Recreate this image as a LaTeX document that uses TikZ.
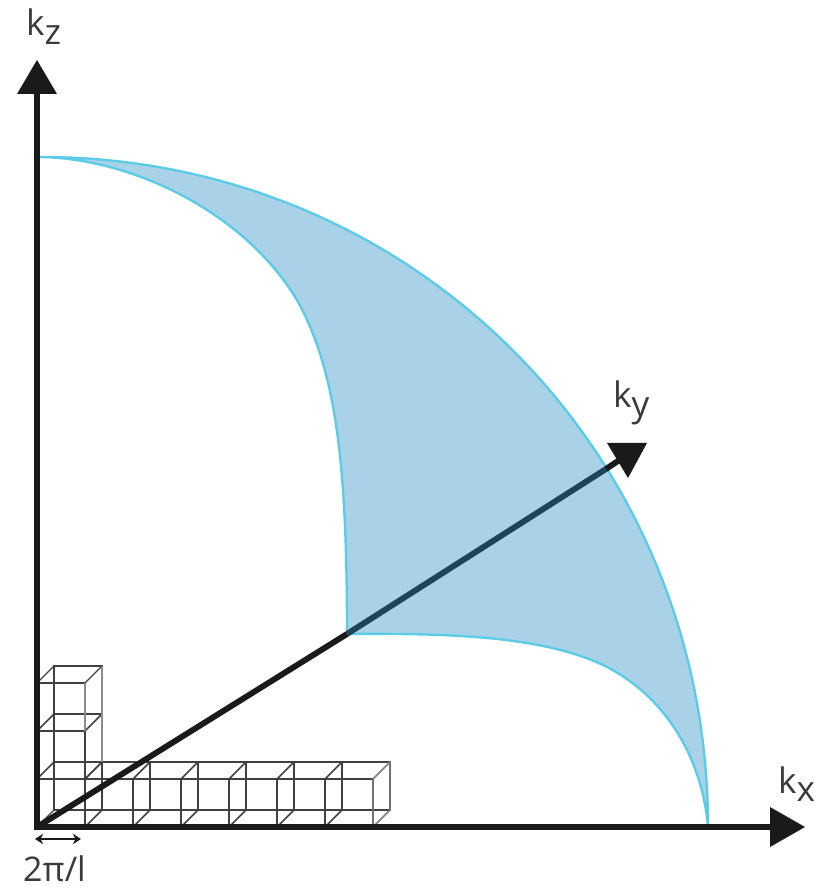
\documentclass[tikz,border=0pt]{standalone}
\usepackage{fontspec}
\usepackage{tikz}
\usepackage{xcolor}
\usetikzlibrary{arrows.meta}
\setmainfont{Open Sans}
\definecolor{shellfill}{HTML}{A9D2E8}
\definecolor{shelledge}{HTML}{5CCBE6}
\definecolor{axisink}{HTML}{1A1A1A}
\definecolor{axisteal}{HTML}{1C4557}
\definecolor{labelink}{HTML}{3A3A3A}
\tikzset{
  axisline/.style={line width=5pt,draw=axisink},
  axishead/.style={fill=axisink,draw=none},
  axislabel/.style={anchor=base west,inner sep=0pt,text=labelink,font=\fontsize{30}{32}\selectfont},
  cellline/.style={line width=1.1pt,draw=black!75,line join=miter},
  cellfade/.style={line width=1.1pt,draw=black!45},
}
\newcommand{\lowered}[1]{\raisebox{-0.24em}{#1}}
\newcommand{\cell}[2]{%
  \draw[cellline] (#1,#2) rectangle ++(48,48);
  \draw[cellline] (#1+17,#2+17) rectangle ++(48,48);
  \draw[cellline] (#1,#2)--++(17,17);
  \draw[cellline] (#1+48,#2)--++(17,17);
  \draw[cellline] (#1,#2+48)--++(17,17);
  \draw[cellline] (#1+48,#2+48)--++(17,17);
}
\begin{document}
\begin{tikzpicture}[x=0.3mm,y=0.3mm]
\useasboundingbox (-37,-63) rectangle (780,827);
\coordinate (origin) at (0,0);
\coordinate (kztip) at (0,767);
\coordinate (kxtip) at (768,0);
\coordinate (kymid) at (310,193);
\coordinate (kycross) at (569,358);
\coordinate (kyend) at (590,372);
\coordinate (topcorner) at (0,670);
\coordinate (rightcorner) at (671,0);
% shell
\draw[fill=shellfill,line width=2pt,draw=shelledge,line join=round] (topcorner) .. controls (375,672) and (671,375) .. (rightcorner)
  .. controls (665,70) and (628,130) .. (570,160)
  .. controls (510,190) and (420,194) .. (kymid)
  .. controls (310,360) and (300,455) .. (260,527)
  .. controls (205,618) and (90,670) .. (topcorner);
% cells
\foreach \xpos in {0,48,...,288}{\cell{\xpos}{0}}
\foreach \ypos in {48,96}{\cell{0}{\ypos}}
\draw[cellfade] (336,0)--(336,48)--(353,65)--(353,17)--(336,0);
\draw[cellfade] (48,96)--(48,144);
\draw[cellfade] (65,65)--(65,161);
% axes
\draw[axisline] (origin)--(kymid);
\draw[axisline,draw=axisteal] (kymid)--(kycross);
\draw[axisline] (kycross)--(kyend);
\fill[axishead] (570,384)--(610,384)--(591,349)--cycle;
\draw[axisline] (origin)--(0,735);
\draw[axisline] (-3,0)--(735,0);
\fill[axishead] (kztip)--(20,733)--(-20,733)--cycle;
\fill[axishead] (kxtip)--(733,20)--(733,-20)--cycle;
% dimension
\coordinate (spanleft) at (-2,-12);
\coordinate (spanright) at (44,-12);
\draw[{Stealth[length=7pt,width=9pt]}-{Stealth[length=7pt,width=9pt]},line width=1.6pt,draw=axisink] (spanleft)--(spanright);
% labels
\node[axislabel] (kzlabel) at (-11,791) {k\lowered{z}};
\node[axislabel] (kylabel) at (576,419) {k\lowered{y}};
\node[axislabel] (kxlabel) at (741,34) {k\lowered{x}};
\node[axislabel,font=\fontsize{29}{31}\selectfont] (spanlabel) at (-14,-54) {2π/l};
\end{tikzpicture}
\end{document}
